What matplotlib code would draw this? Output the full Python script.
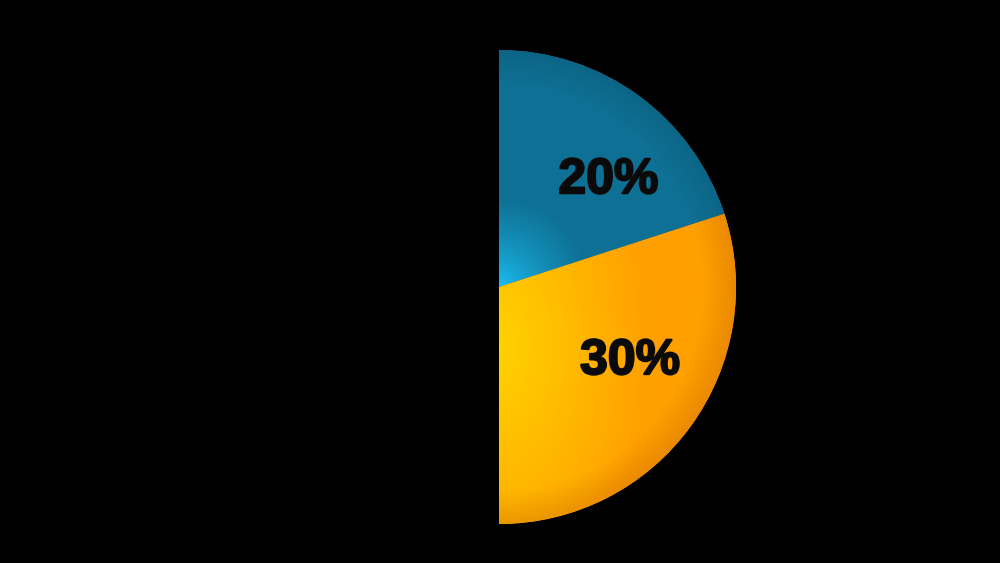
import numpy as np
import matplotlib
matplotlib.use("Agg")
import matplotlib.pyplot as plt
import matplotlib.patheffects as pe
from matplotlib.colors import to_rgb

# pie data (percent of the whole circle)
shares = [20, 30]
labels = ["20%", "30%"]
baseColors = ["#0e7094", "#ffa200"]

# label placement: (angle in degrees, fraction of radius)
labelPos = [(44.3, 0.645), (-29.5, 0.635)]

W, H = 1000, 563
cx, cy, R = 499, 276, 237

fig = plt.figure(figsize=(W / 100, H / 100), dpi=100, facecolor="black")
ax = fig.add_axes([0, 0, 1, 1])
ax.set_facecolor("black")

wedges, _ = ax.pie([s / 100 for s in shares], colors=baseColors, startangle=90,
                   counterclock=False, normalize=False, radius=R, center=(cx, cy),
                   wedgeprops={"linewidth": 0})
ax.set_xlim(0, W)
ax.set_ylim(0, H)
ax.set_aspect("equal")
ax.axis("off")

# shading images
xx, yy = np.meshgrid(np.arange(W) + 0.5, np.arange(H) + 0.5)
dist = np.hypot(xx - cx, yy - cy)
rim = np.clip((dist / R - 0.86) / 0.14, 0, 1)[..., None]


def lerp(a, b, t):
    return np.array(to_rgb(a)) * (1 - t) + np.array(to_rgb(b)) * t


# blue: cyan glow at the centre
tb = np.clip(dist / 90, 0, 1) ** 0.7
blueImg = lerp("#1cc4f8", "#0e7094", tb[..., None])
blueImg = blueImg * (1 - 0.1 * rim)

# orange: yellow near the straight edge, darker at the rim
to = np.sqrt(((xx - cx) / 150) ** 2 + ((yy - (cy - 60)) / 260) ** 2)
to = np.clip(to, 0, 1)
orangeImg = lerp("#ffd200", "#ffa000", to[..., None])
orangeImg = orangeImg * (1 - rim * np.array([0.08, 0.14, 0.5]))

for wedge, img in zip(wedges, [blueImg, orangeImg]):
    im = ax.imshow(np.clip(img, 0, 1), extent=(0, W, 0, H), origin="lower",
                   interpolation="bilinear", zorder=wedge.get_zorder() + 0.1)
    im.set_clip_path(wedge)

for text, (ang, frac) in zip(labels, labelPos):
    a = np.deg2rad(ang)
    ax.text(cx + frac * R * np.cos(a), cy + frac * R * np.sin(a), text,
            ha="center", va="center", fontsize=36, fontweight="bold",
            family="Liberation Sans", color="#0a0a0a", zorder=5,
            path_effects=[pe.withStroke(linewidth=1.5, foreground="#0a0a0a")])

fig.savefig("out.png", dpi=100, facecolor="black")
